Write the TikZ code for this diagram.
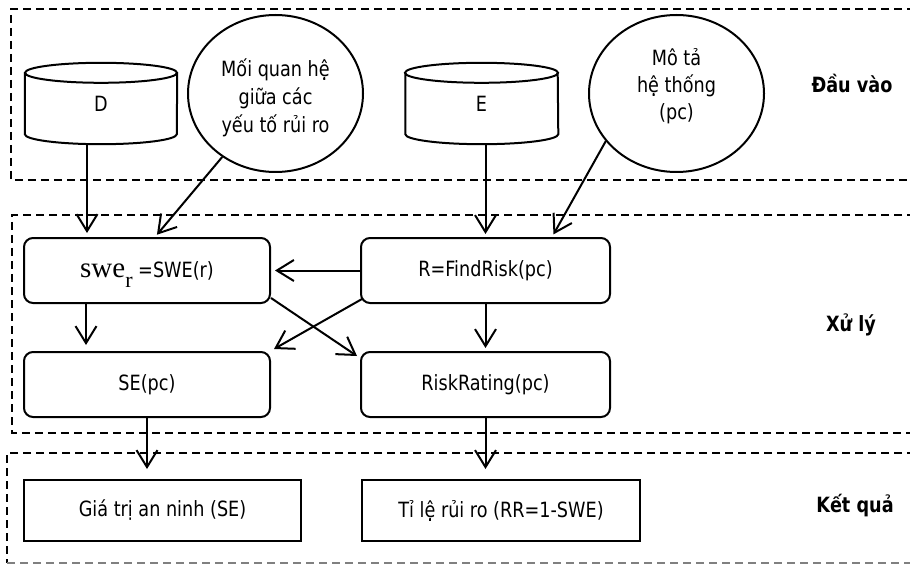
\documentclass[tikz,border=0pt]{standalone}
\usepackage{fontspec}
\setmainfont{DejaVu Sans}[FakeStretch=0.84]
\newfontfamily\swefont{Liberation Serif}
\usetikzlibrary{arrows.meta,shapes.geometric,calc}

\begin{document}
\begin{tikzpicture}[x=1pt,y=1pt,
  every node/.style={font=\fontsize{21}{28}\selectfont,inner sep=0pt},
  frame/.style={line width=1.4pt,dash pattern=on 8pt off 5pt},
  procbox/.style={draw,line width=2pt,rounded corners=9pt,minimum height=65pt},
  outbox/.style={draw,line width=2pt,minimum height=61pt},
  bubble/.style={draw,ellipse,line width=2pt,minimum width=175pt,minimum height=157pt},
  cylbody/.style={minimum width=152pt,minimum height=81pt},
  cylline/.style={line width=2pt},
  lane/.style={font=\bfseries\fontsize{21}{28}\selectfont,anchor=base},
  flow/.style={line width=2pt,-{Straight Barb[length=17pt,width=21pt,line width=2pt]}}
]
\useasboundingbox (0,0) rectangle (910,-564);

% lane frames (open on the right)
\draw[frame] (915,-9) -- (11,-9) -- (11,-180) -- (915,-180);
\draw[frame] (915,-215) -- (12,-215) -- (12,-433) -- (915,-433);
\draw[frame] (915,-453) -- (7,-453) -- (7,-563);
\draw[frame,gray] (7,-563) -- (915,-563);

% lane titles
\node[lane] (lin)  at (852,-93)  {Đầu vào};
\node[lane] (lpro) at (851,-331) {Xử lý};
\node[lane] (lout) at (855,-512) {Kết quả};

% data stores
\node[cylbody] (D) at (101,-103.5) {D};
\node[cylbody] (E) at (481.5,-103.5) {E};
\foreach \c/\r in {D/76,E/76.5}{
  \draw[cylline] ($(\c.north west)+(0,-10)$) -- ($(\c.south west)+(0,10)$)
    arc[start angle=180,end angle=360,x radius=\r,y radius=10]
    -- ($(\c.north east)+(0,-10)$);
  \draw[cylline] ($(\c.north)+(0,-10)$) ellipse[x radius=\r,y radius=10];
}

% input bubbles
\node[bubble] (rel) at (275.5,-93.5) {};
\node[align=center] (reltext) at ([yshift=-4]rel.center) {Mối quan hệ\\giữa các\\yếu tố rủi ro};
\node[bubble] (desc) at (676.5,-93.5) {};
\node[align=center,font=\fontsize{21}{27}\selectfont] (desctext) at ([yshift=7]desc.center) {Mô tả\\hệ thống\\(pc)};

% processing steps
\node[procbox,minimum width=246pt] (swe) at (147,-270.5)
  {{\swefont\fontsize{29}{29}\selectfont swe\raisebox{-10pt}[0pt][0pt]{\fontsize{22}{22}\selectfont r}} =SWE(r)};
\node[procbox,minimum width=246pt] (se) at (147,-384.5) {SE(pc)};
\node[procbox,minimum width=249pt] (fr) at (485.5,-270.5) {R=FindRisk(pc)};
\node[procbox,minimum width=249pt] (rr) at (485.5,-384.5) {RiskRating(pc)};

% results
\node[outbox,minimum width=277pt] (gt) at (162.5,-510.5) {Giá trị an ninh (SE)};
\node[outbox,minimum width=278pt] (tl) at (501,-510.5) {Tỉ lệ rủi ro (RR=1-SWE)};

% flows
\draw[flow,shorten >=4pt] ([xshift=-14]D.south) -- ([xshift=-14]D.south |- swe.north);
\draw[flow,shorten >=3pt] (rel.230) -- ([xshift=8]swe.north);
\draw[flow,shorten >=3pt] (E.south -| fr.north) -- (fr.north);
\draw[flow,shorten >=3pt] (desc.214) -- ([xshift=66.5]fr.north);
\draw[flow,shorten >=4pt] (fr.west) -- (fr.west -| swe.east);
\draw[flow] ([shift={(2,5)}]fr.south west) -- ([shift={(3,2)}]se.north east);
\draw[flow] ([shift={(0,6)}]swe.south east) -- ([shift={(-3,-5)}]rr.north west);
\draw[flow,shorten >=6pt] ([xshift=-61]swe.south) -- ([xshift=-61]se.north);
\draw[flow,shorten >=3pt] (fr.south) -- (rr.north);
\draw[flow,shorten >=10pt] (se.south) -- (se.south |- gt.north);
\draw[flow,shorten >=10pt] (rr.south) -- (rr.south |- tl.north);
\end{tikzpicture}
\end{document}
